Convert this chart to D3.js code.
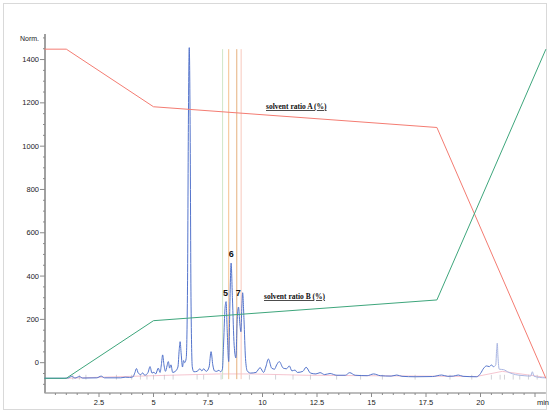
<!DOCTYPE html>
<html>
<head>
<meta charset="utf-8">
<script src="https://cdn.jsdelivr.net/npm/d3@7"></script>
<style>
  body { margin: 0; background: #fff; }
  svg { display: block; }
  text { font-family: "Liberation Sans", Arial, sans-serif; }
</style>
</head>
<body>
<div id="chart"></div>
<script>
// chart size
var svgWidth = 550;
var svgHeight = 413;

// chromatogram trace (time in min, normalised signal)
var traceTime = [0, 0.9, 1.1, 1.25, 1.4, 1.6, 1.75, 2.4, 2.6, 2.75, 3.5, 3.7, 3.9, 4.05, 4.15, 4.22, 4.3, 4.42, 4.5, 4.6,
  4.75, 4.84, 4.93, 5.02, 5.1, 5.22, 5.3, 5.36, 5.42, 5.48, 5.55, 5.62, 5.68, 5.74, 5.8, 5.88, 6.0, 6.12, 6.18, 6.22,
  6.27, 6.33, 6.38, 6.43, 6.5, 6.56, 6.6, 6.64, 6.68, 6.72, 6.78, 6.85, 7.0, 7.13, 7.22, 7.3, 7.42, 7.55, 7.64, 7.72,
  7.8, 7.9, 8.0, 8.08, 8.16, 8.22, 8.28, 8.33, 8.38, 8.45, 8.5, 8.56, 8.62, 8.7, 8.78, 8.84, 8.9, 8.96, 9.01, 9.05,
  9.09, 9.15, 9.22, 9.3, 9.45, 9.7, 9.89, 10.05, 10.15, 10.27, 10.42, 10.55, 10.65, 10.77, 10.95, 11.1, 11.23, 11.35, 11.49, 11.6,
  11.85, 12.0, 12.2, 12.45, 12.64, 12.85, 13.1, 13.4, 13.8, 14.0, 14.25, 14.8, 15.1, 15.4, 15.9, 16.16, 16.4, 17.0, 17.8, 18.22,
  18.5, 18.75, 18.98, 19.2, 19.83, 20.0, 20.15, 20.28, 20.4, 20.5, 20.6];
var traceValue = [-72, -72, -70, -63, -71, -64, -71, -70, -62, -70, -70, -67, -68, -66, -45, -27, -48, -55, -47, -58,
  -45, -18, -48, -44, -52, -25, -45, -10, 36, -10, -40, -15, 5, -25, -10, -45, -40, -20, 60, 97,
  40, -20, 10, 0, 20, 350, 1100, 1455, 1100, 300, -20, -42, -40, -28, -38, -28, -40, -20, 51, -10,
  -38, -40, -35, -42, -30, 100, 250, 282, 150, 5, 250, 460, 300, 80, 22, 200, 257, 180, 143, 250,
  323, 200, 20, -38, -48, -45, -23, -45, -20, 17, -25, -30, -10, 5, -25, -28, -15, -38, -34, -45,
  -40, -21, -48, -52, -46, -55, -50, -58, -58, -46, -58, -60, -52, -60, -62, -57, -63, -65, -64, -57,
  -63, -62, -57, -63, -65, -50, -25, -15, -18, -11, -20];

// faded tail of the trace after 20.6 min
var tailTime = [20.6, 20.7, 20.74, 20.77, 20.8, 20.86, 21.05, 21.3, 21.6, 22.0, 22.3, 22.38, 22.45, 22.7, 23.0];
var tailValue = [-20, -10, 60, 90, 30, -30, -32, -45, -55, -60, -62, -42, -62, -68, -70];

// integration baseline and its marks
var baseTime = [1, 5, 8, 9.5, 12, 19.8, 21, 23];
var baseValue = [-72, -60, -52, -52, -58, -64, -40, -68];
var markTime = [1.3, 1.6, 1.9, 3.3, 4.0, 4.4, 4.7, 5.0, 5.5, 5.9, 7.0, 7.3, 8.1, 9.4, 10.6, 11.4, 12.2, 13.4,
  14.5, 15.5, 17.0, 18.6, 19.6, 20.5, 20.9, 21.1, 21.5, 21.8, 22.2, 22.6];

// solvent gradient (percent)
var gradTime = [0, 1, 5, 18, 23];
var solventA = [100, 100, 82.5, 76.2, 0];
var solventB = [0, 0, 17.5, 23.8, 100];

// marked fractions
var fracTime = [8.17, 8.45, 8.82, 9.02];
var fracColor = ["#cfe6c8", "#f5c08e", "#e6b07e", "#f8c8bc"];

// peak labels
var peakName = ["5", "6", "7"];
var peakTime = [8.3, 8.57, 8.89];
var peakValue = [310, 490, 310];

var xTicks = [2.5, 5, 7.5, 10, 12.5, 15, 17.5, 20];
var yTicks = [0, 200, 400, 600, 800, 1000, 1200, 1400];

var svg = d3.select("#chart")
  .append("svg")
  .attr("width", svgWidth)
  .attr("height", svgHeight);

// outer frame
svg.append("rect")
  .attr("x", 3.5).attr("y", 3.5)
  .attr("width", 543).attr("height", 406)
  .attr("fill", "none")
  .attr("stroke", "#d9d9d9");

var xScale = d3.scaleLinear().domain([0, 23]).range([44.5, 545.9]);
var yScale = d3.scaleLinear().domain([-140, 1518]).range([393, 34]);
var pctScale = d3.scaleLinear().domain([0, 100]).range([-72, 1448]);

// x axis
var xAxis = svg.append("g").attr("transform", "translate(0,393)");
xAxis.append("line")
  .attr("x1", xScale(0)).attr("x2", xScale(23))
  .attr("stroke", "#7a7a7a").attr("stroke-width", 1.2);
xAxis.selectAll(".minor")
  .data(d3.range(0.5, 23, 0.5))
  .enter().append("line")
  .attr("x1", d => xScale(d)).attr("x2", d => xScale(d))
  .attr("y1", 0).attr("y2", d => (d % 2.5 === 0 ? 4 : 2))
  .attr("stroke", "#8a8a8a");
xAxis.selectAll(".lab")
  .data(xTicks)
  .enter().append("text")
  .attr("x", d => xScale(d)).attr("y", 11.5)
  .attr("text-anchor", "middle")
  .style("font-size", "7.5px")
  .attr("fill", "#222")
  .text(d => d);
xAxis.append("text")
  .attr("x", 543).attr("y", 11.5)
  .attr("text-anchor", "middle")
  .style("font-size", "7.5px")
  .attr("fill", "#222")
  .text("min");

// y axis
var yAxis = svg.append("g").attr("transform", "translate(45,0)");
yAxis.append("line")
  .attr("y1", 34).attr("y2", 393)
  .attr("stroke", "#a0a0a0").attr("stroke-width", 2);
yAxis.selectAll(".minor")
  .data(d3.range(-100, 1501, 50))
  .enter().append("line")
  .attr("y1", d => yScale(d)).attr("y2", d => yScale(d))
  .attr("x1", d => (d % 200 === 0 ? -5 : -2)).attr("x2", 0)
  .attr("stroke", "#8a8a8a");
yAxis.selectAll(".lab")
  .data(yTicks)
  .enter().append("text")
  .attr("x", -6).attr("y", d => yScale(d) + 2.6)
  .attr("text-anchor", "end")
  .style("font-size", "7.5px")
  .attr("fill", "#222")
  .text(d => d);
yAxis.append("text")
  .attr("x", -6).attr("y", 40.5)
  .attr("text-anchor", "end")
  .style("font-size", "7px")
  .attr("fill", "#222")
  .text("Norm.");

// integration baseline
var lineXY = d3.line().x(d => xScale(d[0])).y(d => yScale(d[1]));
svg.append("path")
  .datum(d3.zip(baseTime, baseValue))
  .attr("d", lineXY)
  .attr("fill", "none")
  .attr("stroke", "#f3b6c4")
  .attr("stroke-width", 0.8);

svg.selectAll(".mark")
  .data(markTime)
  .enter().append("line")
  .attr("x1", d => xScale(d)).attr("x2", d => xScale(d))
  .attr("y1", yScale(-56)).attr("y2", yScale(-78))
  .attr("stroke", "#b4b4bc")
  .attr("stroke-width", 0.6);

// fraction lines
svg.selectAll(".frac")
  .data(fracTime)
  .enter().append("line")
  .attr("x1", d => xScale(d)).attr("x2", d => xScale(d))
  .attr("y1", yScale(1448)).attr("y2", yScale(-76))
  .attr("stroke", (d, i) => fracColor[i])
  .attr("stroke-width", 1);

// chromatogram
var traceLine = d3.line()
  .x(d => xScale(d[0]))
  .y(d => yScale(d[1]))
  .curve(d3.curveMonotoneX);

svg.append("path")
  .datum(d3.zip(tailTime, tailValue))
  .attr("d", traceLine)
  .attr("fill", "none")
  .attr("stroke", "#a9b5e2")
  .attr("stroke-width", 1);

svg.append("path")
  .datum(d3.zip(traceTime, traceValue))
  .attr("d", traceLine)
  .attr("fill", "none")
  .attr("stroke", "#5474cc")
  .attr("stroke-width", 1);

// solvent gradient lines
var gradLine = d3.line()
  .x(d => xScale(d[0]))
  .y(d => yScale(pctScale(d[1])));

svg.append("path")
  .datum(d3.zip(gradTime, solventA))
  .attr("d", gradLine)
  .attr("fill", "none")
  .attr("stroke", "#f47c72")
  .attr("stroke-width", 1);

svg.append("path")
  .datum(d3.zip(gradTime, solventB))
  .attr("d", gradLine)
  .attr("fill", "none")
  .attr("stroke", "#3ea67c")
  .attr("stroke-width", 1);

// solvent labels
svg.append("text")
  .attr("x", 266).attr("y", 109)
  .style("font-family", "'Liberation Serif', 'Times New Roman', serif")
  .style("font-size", "7.5px")
  .style("font-weight", "bold")
  .style("text-decoration", "underline")
  .attr("fill", "#111")
  .text("solvent ratio A (%)");

svg.append("text")
  .attr("x", 264).attr("y", 299)
  .style("font-family", "'Liberation Serif', 'Times New Roman', serif")
  .style("font-size", "7.5px")
  .style("font-weight", "bold")
  .style("text-decoration", "underline")
  .attr("fill", "#111")
  .text("solvent ratio B (%)");

// peak labels
svg.selectAll(".peak")
  .data(peakName)
  .enter().append("text")
  .attr("x", (d, i) => xScale(peakTime[i]))
  .attr("y", (d, i) => yScale(peakValue[i]))
  .attr("text-anchor", "middle")
  .style("font-size", "9px")
  .style("font-weight", "bold")
  .attr("fill", "#111")
  .text(d => d);
</script>
</body>
</html>
